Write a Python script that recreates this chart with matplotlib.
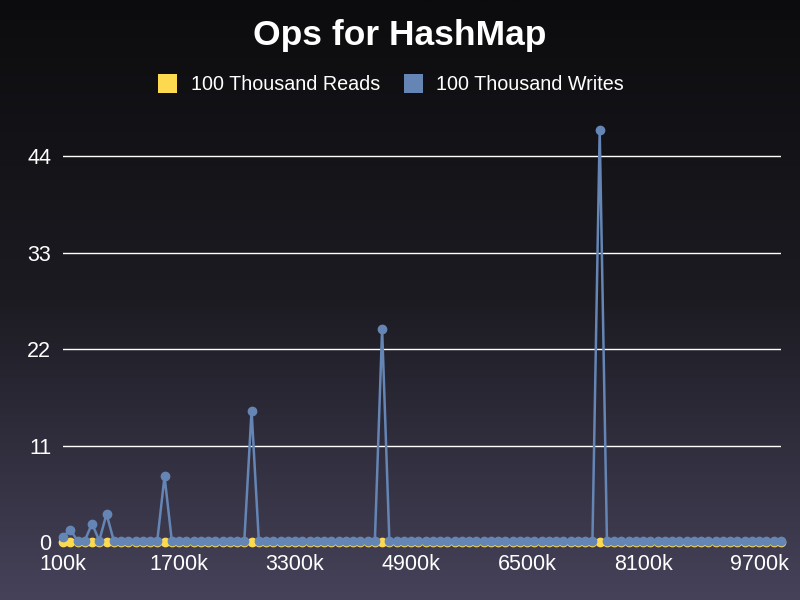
import numpy as np
import matplotlib
matplotlib.use("Agg")
import matplotlib.pyplot as plt
from matplotlib.colors import LinearSegmentedColormap
from matplotlib.patches import Patch

# ---- data ----
x_k = list(range(100, 10001, 100))  # sizes in thousands
spike_k = [100, 200, 500, 700, 1500, 2700, 4500, 7500]
spike_writes = [0.6, 1.4, 2.1, 3.2, 7.5, 15.0, 24.3, 47.0]
spike_reads = [0.05, 0.05, 0.05, 0.05, 0.05, 0.05, 0.05, 0.05]
base_writes = 0.15
base_reads = 0.0
writes = [spike_writes[spike_k.index(v)] if v in spike_k else base_writes for v in x_k]
reads = [spike_reads[spike_k.index(v)] if v in spike_k else base_reads for v in x_k]
xtick_vals = [100, 1700, 3300, 4900, 6500, 8100, 9700]
xtick_labels = [f"{v}k" for v in xtick_vals]
ytick_vals = [0, 11, 22, 33, 44]
series_names = ["100 Thousand Reads", "100 Thousand Writes"]
colors = ["#fdd94f", "#6585b4"]

plt.rcParams['font.family'] = ['Liberation Sans', 'DejaVu Sans']

fig = plt.figure(figsize=(8, 6), dpi=100)
# background gradient
bg = fig.add_axes([0, 0, 1, 1], zorder=0)
cmap = LinearSegmentedColormap.from_list("bg", ["#0c0c0e", "#1c1b22", "#46425a"])
grad = np.linspace(0, 1, 256).reshape(-1, 1)
bg.imshow(grad, aspect='auto', cmap=cmap, extent=[0, 1, 0, 1], origin='upper')
bg.axis('off')

ax = fig.add_axes([63/800, 1 - 542/600, (781 - 63)/800, (542 - 130)/600], zorder=1)
ax.set_facecolor('none')
ax.plot(x_k, writes, color=colors[1], lw=1.8, marker='o', ms=6, clip_on=False, zorder=3)
ax.plot(x_k, reads, color=colors[0], lw=1.8, marker='o', ms=6, clip_on=False, zorder=2)
ax.set_xlim(100, 10000)
ax.set_ylim(0, 47)
ax.set_yticks(ytick_vals)
ax.set_xticks(xtick_vals)
ax.set_xticklabels(xtick_labels)
for s in ax.spines.values():
    s.set_visible(False)
for yv in ytick_vals[1:]:
    ax.axhline(yv, color='white', lw=1, zorder=1)
ax.tick_params(axis='both', colors='white', labelsize=15.5, length=0)
ax.tick_params(axis='y', pad=8.5)
ax.tick_params(axis='x', pad=9)

fig.text(0.5, 1 - 36/600, "Ops for HashMap", ha='center', va='center',
         color='white', fontsize=25.5, fontweight='bold')
handles = [Patch(facecolor=c, edgecolor='none') for c in colors]
leg = fig.legend(handles, series_names, loc='center', bbox_to_anchor=(0.489, 1 - 84/600),
                 ncol=2, frameon=False, fontsize=14.2, handlelength=0.95, handleheight=1.15,
                 columnspacing=1.2, handletextpad=0.7)
for t in leg.get_texts():
    t.set_color('white')

fig.savefig("out.png", dpi=100)
